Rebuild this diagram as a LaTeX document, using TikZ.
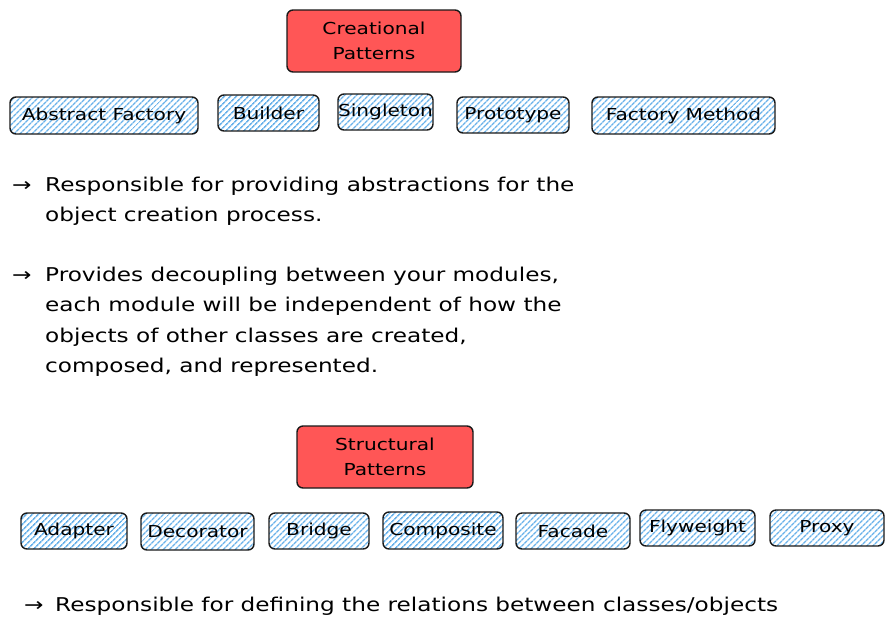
\documentclass[tikz,border=0pt]{standalone}
\usepackage{fontspec}
\setmainfont[FakeStretch=1.22]{DejaVu Sans}
\usetikzlibrary{patterns.meta}
\definecolor{redfill}{HTML}{FF5656}
\definecolor{hatch}{HTML}{6AB2EA}
\tikzset{
  boxbase/.style={draw=black!90, line width=1.4pt, rounded corners=6pt, inner sep=0pt, align=center},
  redbox/.style={boxbase, fill=redfill, font=\fontsize{16.5}{25}\selectfont},
  bluebox/.style={boxbase, pattern={Lines[angle=45,distance=4pt,line width=1.6pt]}, pattern color=hatch, font=\fontsize{16.5}{20}\selectfont},
  bodytext/.style={anchor=base west, inner sep=0pt, font=\fontsize{19}{30}\selectfont},
}
\begin{document}
\begin{tikzpicture}[x=1pt,y=-1pt]
\useasboundingbox (0,0) rectangle (893,627);
% creational
\node[redbox, minimum width=174pt, minimum height=62pt] (cre) at (374,41) {Creational\\Patterns};
\node[bluebox, minimum width=188pt, minimum height=37pt] (af) at (104,115.5) {Abstract Factory};
\node[bluebox, minimum width=101pt, minimum height=36pt] (bu) at (268.5,113) {Builder};
\node[bluebox, minimum width=95pt, minimum height=36pt] (si) at (385.5,112) {Singleton};
\node[bluebox, minimum width=112pt, minimum height=36pt] (pr) at (513,115) {Prototype};
\node[bluebox, minimum width=183pt, minimum height=37pt] (fm) at (683.5,115.5) {Factory Method};
% text block 1
\node[bodytext] (a1) at (12,191) {→};
\node[bodytext] (t1a) at (45,191) {Responsible for providing abstractions for the};
\node[bodytext] (t1b) at (45,221) {object creation process.};
\node[bodytext] (a2) at (12,281) {→};
\node[bodytext] (t2a) at (45,281) {Provides decoupling between your modules,};
\node[bodytext] (t2b) at (45,311) {each module will be independent of how the};
\node[bodytext] (t2c) at (45,342) {objects of other classes are created,};
\node[bodytext] (t2d) at (45,372) {composed, and represented.};
% structural
\node[redbox, minimum width=176pt, minimum height=62pt] (str) at (385,457) {Structural\\Patterns};
\node[bluebox, minimum width=106pt, minimum height=36pt] (ad) at (74,531) {Adapter};
\node[bluebox, minimum width=113pt, minimum height=37pt] (de) at (197.5,531.5) {Decorator};
\node[bluebox, minimum width=100pt, minimum height=36pt] (br) at (319,531) {Bridge};
\node[bluebox, minimum width=120pt, minimum height=37pt] (co) at (443,530.5) {Composite};
\node[bluebox, minimum width=114pt, minimum height=36pt] (fa) at (573,531) {Facade};
\node[bluebox, minimum width=115pt, minimum height=36pt] (fl) at (697.5,528) {Flyweight};
\node[bluebox, minimum width=114pt, minimum height=36pt] (px) at (827,528) {Proxy};
\node[bodytext] (a3) at (24,611) {→};
\node[bodytext] (t3) at (55,611) {Responsible for defining the relations between classes/objects};
\end{tikzpicture}
\end{document}
